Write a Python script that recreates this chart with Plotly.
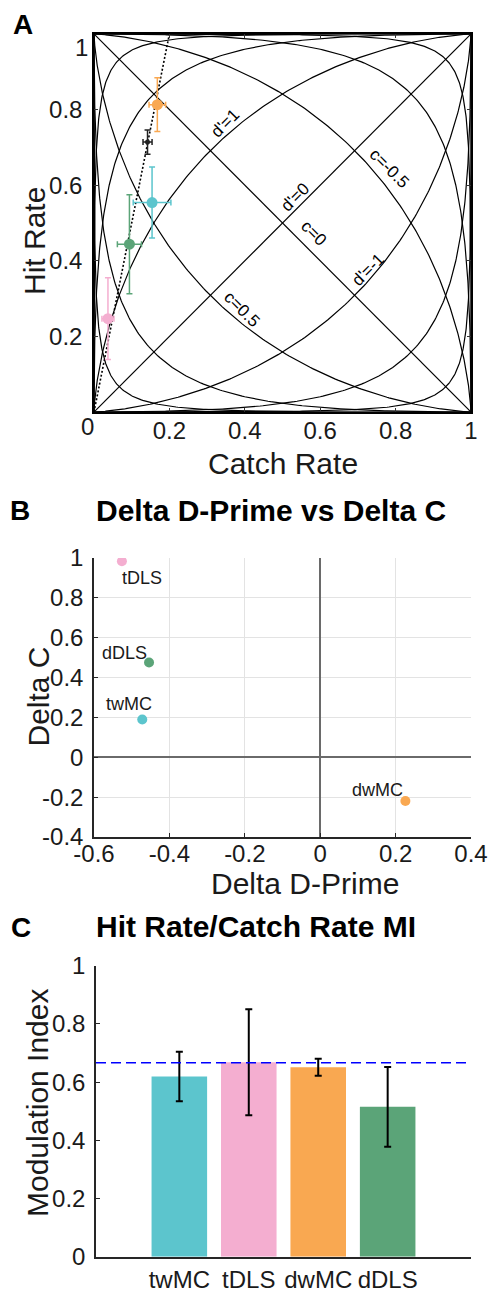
import math
import numpy as np
import plotly.graph_objects as go

# ---------------- data ----------------
groups = ["twMC", "tDLS", "dwMC", "dDLS"]
group_colors = ["#5CC5CD", "#F4AED0", "#F9A851", "#5BA478"]

# Panel A: hit rate vs catch rate (means and error bars)
catch_rate = [0.154, 0.037, 0.168, 0.094]
catch_err = [0.050, 0.016, 0.022, 0.032]
hit_rate = [0.554, 0.247, 0.813, 0.444]
hit_err = [0.094, 0.108, 0.071, 0.131]
# overall (black) point
all_catch = [0.142]
all_catch_err = [0.012]
all_hit = [0.714]
all_hit_err = [0.032]

# iso-sensitivity and iso-criterion levels
dprime_levels = [-3, -2, -1, 0, 1, 2, 3]
crit_levels = [-1.5, -1, -0.5, 0, 0.5, 1, 1.5]
level_labels = ["d'=1", "d'=0", "c=0", "d'=-1", "c=0.5", "c=-0.5"]
level_label_x = [0.347, 0.533, 0.584, 0.728, 0.393, 0.783]
level_label_y = [0.764, 0.568, 0.473, 0.378, 0.272, 0.643]
level_label_angle = [-45, -45, 45, -45, 45, 45]

# reference modulation index (hit/catch)
mi_ref = 2.0 / 3.0

# Panel B
delta_dprime = [-0.472, -0.526, 0.226, -0.454]
delta_c = [0.190, 0.984, -0.219, 0.476]
label_dx = [-0.036, 0.052, -0.073, -0.064]
label_dy = [0.077, -0.083, 0.055, 0.049]

# Panel C
mod_index = [0.619, 0.668, 0.651, 0.515]
mod_err = [0.085, 0.182, 0.029, 0.137]

tick01 = [0, 0.2, 0.4, 0.6, 0.8, 1]
tickB_x = [-0.6, -0.4, -0.2, 0, 0.2, 0.4]
tickB_y = [-0.4, -0.2, 0, 0.2, 0.4, 0.6, 0.8, 1]

# ---------------- helpers ----------------
W, H = 488, 1291
FONT = "Liberation Sans, Arial, Helvetica, sans-serif"
TXT = "#1a1a1a"


def fx(p):
    return p / W


def fy(p):
    return 1 - p / H


erf_v = np.vectorize(math.erf)


def Phi(z):
    return 0.5 * (1 + erf_v(z / math.sqrt(2)))


def fmt(v):
    return "%g" % v


fig = go.Figure()

# ---------------- Panel A ----------------
z = np.linspace(-7, 7, 800)
for d in dprime_levels:
    fig.add_trace(go.Scatter(x=Phi(z), y=Phi(z + d), mode="lines",
                             line=dict(color="black", width=1.2),
                             xaxis="x", yaxis="y", showlegend=False, hoverinfo="skip"))
for c in crit_levels:
    fig.add_trace(go.Scatter(x=Phi(z), y=Phi(-2 * c - z), mode="lines",
                             line=dict(color="black", width=1.2),
                             xaxis="x", yaxis="y", showlegend=False, hoverinfo="skip"))

ratio = (1 + mi_ref) / (1 - mi_ref)
fig.add_trace(go.Scatter(x=[0, 1 / ratio], y=[0, 1], mode="lines",
                         line=dict(color="black", width=1.6, dash="2px,2px"),
                         xaxis="x", yaxis="y", showlegend=False, hoverinfo="skip"))

for i, g in enumerate(groups):
    fig.add_trace(go.Scatter(
        x=[catch_rate[i]], y=[hit_rate[i]], mode="markers",
        marker=dict(color=group_colors[i], size=11),
        error_x=dict(type="data", array=[catch_err[i]], color=group_colors[i], thickness=1.5, width=3),
        error_y=dict(type="data", array=[hit_err[i]], color=group_colors[i], thickness=1.5, width=3),
        xaxis="x", yaxis="y", showlegend=False, name=g))

fig.add_trace(go.Scatter(
    x=all_catch, y=all_hit, mode="markers",
    marker=dict(color="#222222", size=5),
    error_x=dict(type="data", array=all_catch_err, color="#222222", thickness=1.5, width=3),
    error_y=dict(type="data", array=all_hit_err, color="#222222", thickness=1.5, width=3),
    xaxis="x", yaxis="y", showlegend=False))

# ---------------- Panel B ----------------
for i, g in enumerate(groups):
    fig.add_trace(go.Scatter(
        x=[delta_dprime[i]], y=[delta_c[i]], mode="markers",
        marker=dict(color=group_colors[i], size=10),
        xaxis="x2", yaxis="y2", showlegend=False, name=g))

# ---------------- Panel C ----------------
fig.add_trace(go.Bar(
    x=groups, y=mod_index, marker=dict(color=group_colors, line=dict(width=0)),
    error_y=dict(type="data", array=mod_err, color="black", thickness=2, width=3.5),
    xaxis="x3", yaxis="y3", showlegend=False, width=0.8))

# ---------------- layout ----------------
tickfont = dict(family=FONT, size=24, color=TXT)
axA = dict(range=[0, 1], showline=True, mirror="ticks", linecolor="black", linewidth=1.5,
           ticks="inside", ticklen=4, tickcolor="#333", showgrid=False, zeroline=False,
           tickfont=tickfont, automargin=False, tickangle=0)

annotations = []


def ann(text, x, y, size, bold=False, angle=0, xref="paper", yref="paper", color=TXT,
        xanchor="center", yanchor="middle"):
    annotations.append(dict(text=("<b>%s</b>" % text) if bold else text, x=x, y=y,
                            xref=xref, yref=yref, showarrow=False, textangle=angle,
                            font=dict(family=FONT, size=size, color=color),
                            xanchor=xanchor, yanchor=yanchor))


# Panel A annotations
for t, lx, ly, la in zip(level_labels, level_label_x, level_label_y, level_label_angle):
    ann(t, lx, ly, 17, angle=la, xref="x", yref="y", color="black")
ann("0", fx(87.5), fy(426), 24)
ann("1", fx(81), fy(47), 24)
ann("Catch Rate", fx(283), fy(464), 30)
ann("Hit Rate", fx(35), fy(241), 30, angle=-90)
ann("A", fx(22.5), fy(24), 28, bold=True, color="black")

# Panel B annotations
for i, g in enumerate(groups):
    ann(g, delta_dprime[i] + label_dx[i], delta_c[i] + label_dy[i], 18,
        xref="x2", yref="y2")
ann("Delta C", fx(37.5), fy(697), 30, angle=-90)
ann("Delta D-Prime", fx(305), fy(883), 30)
ann("Delta D-Prime vs Delta C", fx(271), fy(510), 30, bold=True, color="black")
ann("B", fx(20), fy(510), 28, bold=True, color="black")

# Panel C annotations
ann("Modulation Index", fx(37), fy(1103), 30, angle=-90)
ann("Hit Rate/Catch Rate MI", fx(256), fy(926), 30, bold=True, color="black")
ann("C", fx(21), fy(927), 28, bold=True, color="black")

common_B = dict(showline=True, linecolor="#262626", linewidth=1.5, mirror=False,
                ticks="inside", ticklen=4, tickcolor="#262626",
                showgrid=True, gridcolor="#e3e3e3", gridwidth=1,
                zeroline=True, zerolinecolor="#6a6a6a", zerolinewidth=1.5,
                tickfont=tickfont, automargin=False, tickangle=0)

layout = dict(
    width=W, height=H, margin=dict(l=0, r=0, t=0, b=0, autoexpand=False),
    paper_bgcolor="white", plot_bgcolor="white",
    font=dict(family=FONT, color=TXT),
    xaxis=dict(axA, domain=[fx(94), fx(471)], anchor="y",
               tickvals=tick01[1:], ticktext=[fmt(v) for v in tick01[1:]],
               ticklabelstandoff=-4),
    yaxis=dict(axA, domain=[fy(412), fy(34)], anchor="x",
               tickvals=tick01[1:-1], ticktext=[fmt(v) for v in tick01[1:-1]],
               ticklabelstandoff=5),
    xaxis2=dict(common_B, domain=[fx(94), fx(471)], anchor="y2", range=[-0.6, 0.4],
                tickvals=tickB_x, ticktext=[fmt(v) for v in tickB_x],
                ticklabelstandoff=-6),
    yaxis2=dict(common_B, domain=[fy(837), fy(558)], anchor="x2", range=[-0.4, 1],
                tickvals=tickB_y, ticktext=[fmt(v) for v in tickB_y],
                ticklabelstandoff=4),
    xaxis3=dict(domain=[fx(96), fx(471)], anchor="y3", type="category",
                range=[-1.2, 4.2], showline=True, linecolor="#262626", linewidth=1.5,
                ticks="", showgrid=False, zeroline=False, tickfont=tickfont,
                ticklabelstandoff=1, automargin=False, tickangle=0),
    yaxis3=dict(domain=[fy(1256.7), fy(965.7)], anchor="x3", range=[0, 1],
                tickvals=tick01, ticktext=[fmt(v) for v in tick01],
                showline=True, linecolor="#262626", linewidth=1.5,
                ticks="inside", ticklen=4, tickcolor="#262626",
                showgrid=False, zeroline=False, tickfont=tickfont, ticklabelstandoff=4,
                automargin=False, tickangle=0),
    shapes=[dict(type="line", xref="x3 domain", yref="y3", x0=0, x1=1, y0=mi_ref, y1=mi_ref,
                 line=dict(color="blue", width=1.6, dash="10px,5px"), layer="above")],
    annotations=annotations,
    bargap=0.2,
)
fig.update_layout(layout)
fig.write_html("out.html", config={"displayModeBar": False},
               post_script="document.body.style.margin='0';document.body.style.overflow='hidden';")
